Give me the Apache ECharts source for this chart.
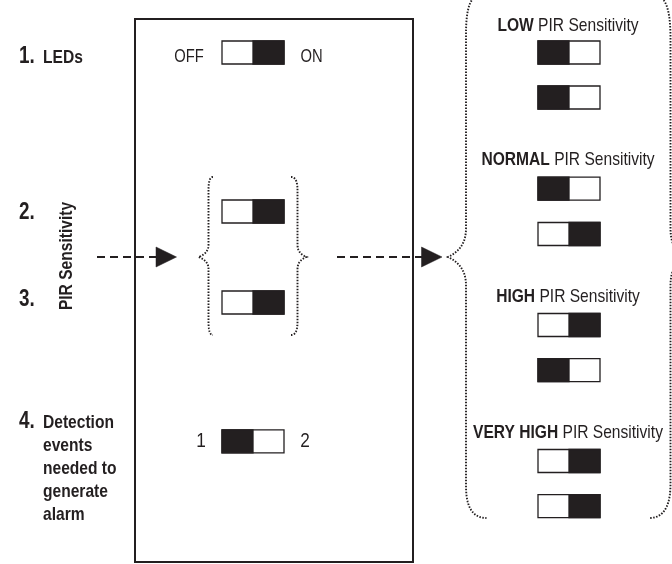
<!DOCTYPE html>
<html><head><meta charset="utf-8">
<script src="https://cdn.jsdelivr.net/npm/echarts@6/dist/echarts.min.js"></script>
<style>html,body{margin:0;padding:0;background:#fff}#c{width:672px;height:564px}</style>
</head><body><div id="c"></div>
<script>
// ---------- data ----------
const steps = ['1.', '2.', '3.', '4.'];
const stepNames = ['LEDs', 'PIR Sensitivity', 'Detection\nevents\nneeded to\ngenerate\nalarm'];
const ledLabels = ['OFF', 'ON'];
const ledState = 1;            // 1 = lever on the right (ON)
const pirStates = [1, 1];      // current DIP setting shown inside the box
const detLabels = ['1', '2'];
const detState = 0;            // 0 = lever on the left (1 event)
const levels = ['LOW', 'NORMAL', 'HIGH', 'VERY HIGH'];
const levelSuffix = 'PIR Sensitivity';
const levelStates = [[0, 0], [0, 1], [1, 0], [1, 1]];

// ---------- layout (canvas units) ----------
const INK = '#231f20';
const L = {
  box: [135, 19, 413, 562],
  swW: 62, swH: 23,
  swX: 253,
  ledY: 52.5,
  pirY: [211.5, 302.5],
  detY: 441.3,
  levelX: 569,
  levelTextX: 568,
  levelLabelY: [26, 160, 297, 432.5],
  levelSwY: [[52.5, 97.5], [188.7, 234], [325, 370.2], [461, 506.2]]
};

function hasFont(name) {
  const ctx = document.createElement('canvas').getContext('2d');
  const s = 'PIR Sensitivity WMWM 0123';
  ctx.font = '40px monospace'; const a = ctx.measureText(s).width;
  ctx.font = '40px "' + name + '", monospace'; const b = ctx.measureText(s).width;
  return Math.abs(a - b) > 0.5;
}
const NARROW = hasFont('Liberation Sans Narrow');
const FAMILY = NARROW ? '"Liberation Sans Narrow", "Liberation Sans", Arial, sans-serif'
                      : '"Liberation Sans", Arial, Helvetica, sans-serif';
const SX = NARROW ? 1 : 0.82;

// switches
const switchData = [];
switchData.push([L.swX, L.ledY, ledState]);
pirStates.forEach((s, i) => switchData.push([L.swX, L.pirY[i], s]));
switchData.push([L.swX, L.detY, detState]);
levelStates.forEach((pair, i) => pair.forEach((s, j) => switchData.push([L.levelX, L.levelSwY[i][j], s])));

// texts
const texts = [];
function T(x, y, text, opt) { texts.push(Object.assign({ x, y, text }, opt || {})); }
T(19, 57, steps[0], { size: 23, bold: true, align: 'left' });
T(43, 58, stepNames[0], { size: 19, bold: true, align: 'left' });
T(19, 213, steps[1], { size: 23, bold: true, align: 'left' });
T(19, 300, steps[2], { size: 23, bold: true, align: 'left' });
T(66.5, 256, stepNames[1], { size: 19, bold: true, rot: Math.PI / 2 });
T(19, 422, steps[3], { size: 23, bold: true, align: 'left' });
T(43, 469, stepNames[2], { size: 19, bold: true, align: 'left', lh: 23 });
T(189, 57.5, ledLabels[0], { size: 18 });
T(311.5, 57.5, ledLabels[1], { size: 18 });
T(201, 441, detLabels[0], { size: 21 });
T(305, 441, detLabels[1], { size: 21 });
levels.forEach((lv, i) => T(L.levelTextX, L.levelLabelY[i], '{b|' + lv + '} ' + levelSuffix, { size: 19, rich: true }));

// shapes
function quad(p0, c, p1, n) {
  const out = [];
  for (let k = 1; k <= n; k++) {
    const t = k / n, u = 1 - t;
    out.push([u * u * p0[0] + 2 * u * t * c[0] + t * t * p1[0], u * u * p0[1] + 2 * u * t * c[1] + t * t * p1[1]]);
  }
  return out;
}
function brace(xEnd, xV, xP, yT, yM, yB, rt, rm, rb, xEndB) {
  if (xEndB === undefined) xEndB = xEnd;
  let pts = [[xEnd, yT]];
  pts = pts.concat(quad([xEnd, yT], [xV, yT], [xV, yT + rt], 24));
  pts.push([xV, yM - rm]);
  pts = pts.concat(quad([xV, yM - rm], [xV, yM - rm * 0.3], [xP, yM], 16));
  pts = pts.concat(quad([xP, yM], [xV, yM + rm * 0.3], [xV, yM + rm], 16));
  pts.push([xV, yB - rb]);
  pts = pts.concat(quad([xV, yB - rb], [xV, yB], [xEndB, yB], 24));
  return pts;
}
const shapes = [
  { kind: 'rect', r: L.box },
  { kind: 'dash', pts: [[97, 257], [157, 257]] },
  { kind: 'tri', pts: [[156, 247], [156, 267], [176.5, 257]] },
  { kind: 'dash', pts: [[337, 257], [423, 257]] },
  { kind: 'tri', pts: [[421.5, 247], [421.5, 267], [442, 257]] },
  { kind: 'dot', pts: brace(213, 208.5, 198.5, 177, 257, 335, 13, 12, 13) },
  { kind: 'dot', pts: brace(291, 297.5, 306.5, 177, 257, 335, 13, 12, 13) },
  { kind: 'dot', pts: brace(479, 466, 448, -4, 257, 518, 38, 28, 32, 486.5) },
  { kind: 'dot', pts: brace(656, 670.5, 684, -4, 257, 518, 42, 28, 34, 649) }
];

const chart = echarts.init(document.getElementById('c'), null, { renderer: 'canvas' });
const hidden = { show: false };
chart.setOption({
  animation: false,
  backgroundColor: '#fff',
  grid: { left: 0, right: 0, top: 0, bottom: 0, containLabel: false },
  xAxis: { type: 'value', min: 0, max: 672, axisLine: hidden, axisTick: hidden, axisLabel: hidden, splitLine: hidden },
  yAxis: { type: 'value', min: 0, max: 564, inverse: true, axisLine: hidden, axisTick: hidden, axisLabel: hidden, splitLine: hidden },
  series: [
    {
      type: 'custom', clip: false, silent: true,
      data: shapes.map((s, i) => [0, 0, i]),
      renderItem: function (params, api) {
        const s = shapes[params.dataIndex];
        const c = p => api.coord(p);
        if (s.kind === 'rect') {
          const a = c([s.r[0], s.r[1]]), b = c([s.r[2], s.r[3]]);
          return { type: 'rect', shape: { x: a[0], y: a[1], width: b[0] - a[0], height: b[1] - a[1] },
                   style: { fill: 'none', stroke: INK, lineWidth: 2 } };
        }
        const pts = s.pts.map(c);
        if (s.kind === 'tri') return { type: 'polygon', shape: { points: pts }, style: { fill: INK, stroke: INK, lineWidth: 0.5 } };
        if (s.kind === 'dash') return { type: 'polyline', shape: { points: pts }, style: { fill: 'none', stroke: INK, lineWidth: 2, lineDash: [8, 5] } };
        return { type: 'polyline', shape: { points: pts },
                 style: { fill: 'none', stroke: INK, lineWidth: 1.9, lineDash: [1.5, 1.5], lineCap: 'butt' } };
      }
    },
    {
      type: 'custom', clip: false, silent: true,
      data: switchData,
      renderItem: function (params, api) {
        const cx = api.value(0), cy = api.value(1), st = api.value(2);
        const a = api.coord([cx - L.swW / 2, cy - L.swH / 2]);
        const b = api.coord([cx + L.swW / 2, cy + L.swH / 2]);
        const x = a[0], y = a[1], w = b[0] - a[0], h = b[1] - a[1];
        return { type: 'group', children: [
          { type: 'rect', shape: { x: x, y: y, width: w, height: h }, style: { fill: '#fff', stroke: INK, lineWidth: 1.3 } },
          { type: 'rect', shape: { x: st ? x + w / 2 : x, y: y, width: w / 2, height: h }, style: { fill: INK, stroke: INK, lineWidth: 1.3 } }
        ] };
      }
    },
    {
      type: 'custom', clip: false, silent: true,
      data: texts.map(t => [t.x, t.y]),
      renderItem: function (params, api) {
        const t = texts[params.dataIndex];
        const p = api.coord([api.value(0), api.value(1)]);
        const style = {
          text: t.text, x: 0, y: 0, fill: INK,
          fontFamily: FAMILY, fontSize: t.size, fontWeight: t.bold ? 'bold' : 'normal',
          align: t.align || 'center', verticalAlign: 'middle'
        };
        if (t.lh) style.lineHeight = t.lh;
        if (t.rich) style.rich = { b: { fontFamily: FAMILY, fontSize: t.size, fontWeight: 'bold', fill: INK } };
        return { type: 'text', x: p[0], y: p[1], rotation: t.rot || 0, scaleX: SX, scaleY: 1, style: style };
      }
    }
  ]
});
</script>
</body></html>
